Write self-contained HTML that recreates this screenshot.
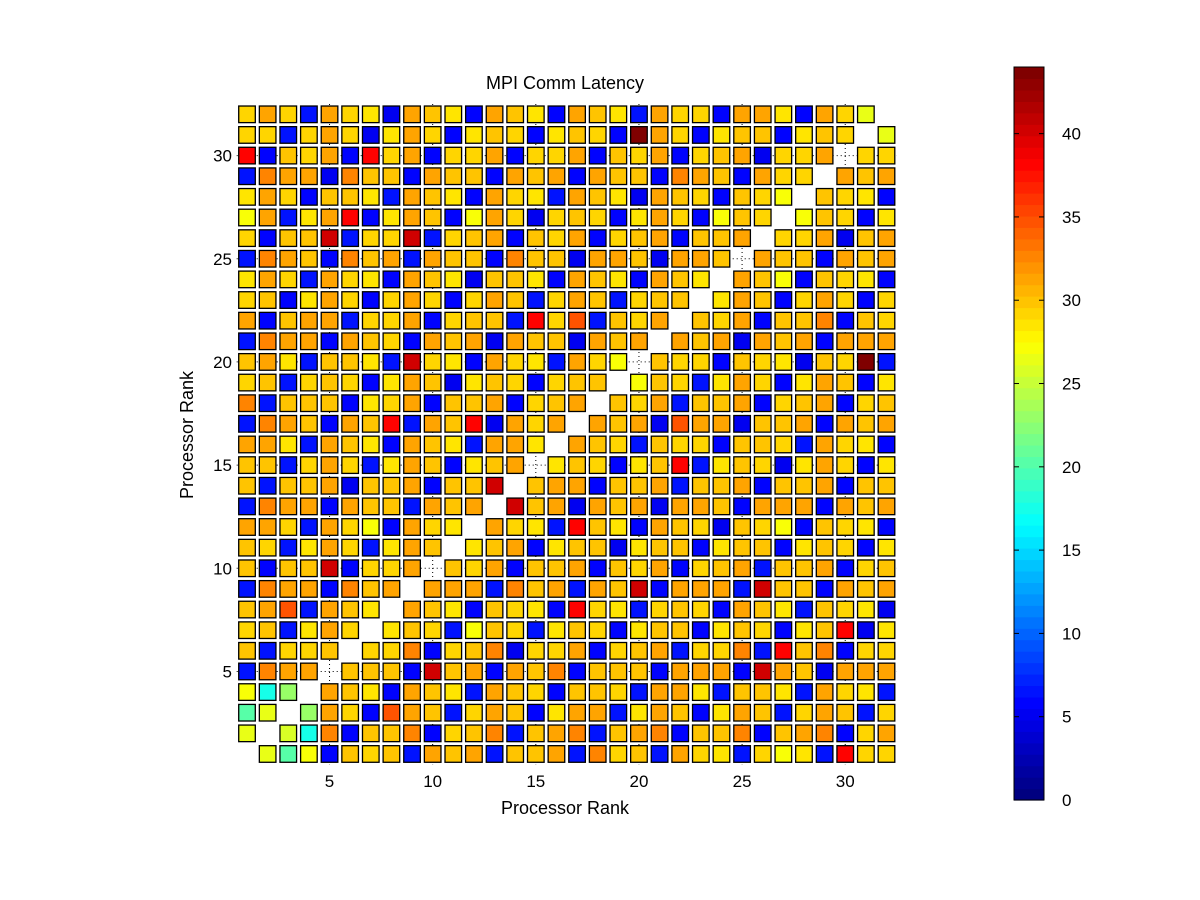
<!DOCTYPE html>
<html><head><meta charset="utf-8"><title>MPI Comm Latency</title>
<style>
html,body{margin:0;padding:0;background:#fff;}
svg{display:block;font-family:"Liberation Sans",Arial,sans-serif;}
</style></head>
<body>
<svg id="chart" width="1200" height="900" viewBox="0 0 1200 900" xmlns="http://www.w3.org/2000/svg">
<rect x="0" y="0" width="1200" height="900" fill="#fff"/>
<text x="565" y="89" text-anchor="middle" font-size="18">MPI Comm Latency</text>
<text x="565" y="814" text-anchor="middle" font-size="18">Processor Rank</text>
<text x="0" y="0" transform="translate(193,435) rotate(-90)" text-anchor="middle" font-size="18">Processor Rank</text>
<g id="grid"></g>
<g id="cells"></g>
<g id="xticks"></g>
<g id="yticks"></g>
<g id="cbar"></g>
</svg>
<script>
const ranks = Array.from({length:32},(_,i)=>i+1);
const axisTicks = [5,10,15,20,25,30];
const colorbarTicks = [0,5,10,15,20,25,30,35,40];
const colorMin = 0;
const colorMax = 44;
// latency[row-1][col-1], row = y rank (1 at bottom), col = x rank
const latency = [
[null,26.5,20,27.5,5.5,30.3,29.2,30.3,6.5,31.2,30.3,31.2,6.5,30.3,30.3,31.2,6.5,32.5,29.2,30.3,6.5,31.2,29.2,28.3,6.5,29.2,27.5,28.3,6.5,38.5,29.2,29.2],
[26.5,null,25.5,17.8,32.5,5.5,30.3,30.3,32.5,5.5,29.2,30.3,32.5,6.5,30.3,31.2,32.5,6.5,30.3,31.2,32.5,5.5,30.3,30.3,32.5,5.5,30.3,31.2,32.5,5.5,29.2,31.2],
[20,26.5,null,23,31.2,29.2,5.5,35,31.2,30.3,6.5,29.2,31.2,30.3,5.5,28.3,31.2,31.2,6.5,28.3,31.2,30.3,5.5,28.3,31.2,30.3,6.5,29.2,31.2,30.3,6.5,29.2],
[27.5,17.8,23,null,31.2,30.3,28.3,5.5,31.2,30.3,28.3,6.5,31.2,30.3,29.2,5.5,30.3,30.3,29.2,6.5,31.2,31.2,28.3,6.5,30.3,30.3,28.3,6.5,31.2,29.2,28.3,6.5],
[6.5,32.5,31.2,31.2,null,30.3,30.3,30.3,5.5,40.5,30.3,31.2,5.5,31.2,30.3,32.5,5.5,30.3,30.3,30.3,5.5,31.2,31.2,31.2,5.5,40.5,31.2,30.3,4.8,31.2,31.2,31.2],
[30.3,6.5,29.2,29.2,30.3,null,29.2,29.2,32.5,5.5,29.2,30.3,32.5,4.8,29.2,29.2,31.2,5.5,29.2,30.3,31.2,6.5,29.2,29.2,32.5,6.5,38.5,30.3,32.5,5.5,29.2,29.2],
[29.2,30.3,6.5,28.3,31.2,29.2,null,28.3,30.3,29.2,6.5,27.5,30.3,29.2,6.5,28.3,30.3,29.2,5.5,28.3,30.3,30.3,5.5,28.3,30.3,29.2,5.5,28.3,30.3,38.5,4.8,28.3],
[30.3,31.2,35,6.5,31.2,30.3,28.3,null,31.2,30.3,28.3,5.5,30.3,29.2,28.3,5.5,38.5,29.2,28.3,6.5,29.2,30.3,29.2,5.5,31.2,30.3,28.3,6.5,30.3,29.2,28.3,4.8],
[6.5,32.5,31.2,31.2,5.5,32.5,30.3,31.2,null,31.2,31.2,31.2,6.5,32.5,30.3,31.2,6.5,31.2,30.3,40.5,5.5,31.2,31.2,31.2,6.5,40.5,30.3,30.3,5.5,31.2,30.3,31.2],
[30.3,5.5,30.3,30.3,40.5,5.5,29.2,29.2,31.2,null,30.3,29.2,31.2,5.5,30.3,30.3,31.2,5.5,30.3,29.2,31.2,5.5,29.2,30.3,31.2,6.5,30.3,30.3,31.2,5.5,29.2,30.3],
[30.3,29.2,6.5,28.3,31.2,29.2,6.5,28.3,31.2,30.3,null,28.3,30.3,31.2,5.5,28.3,30.3,30.3,4.8,28.3,30.3,30.3,5.5,28.3,30.3,30.3,5.5,28.3,30.3,29.2,5.5,28.3],
[31.2,31.2,29.2,6.5,31.2,29.2,27.5,5.5,31.2,29.2,28.3,null,31.2,29.2,28.3,6.5,38.5,30.3,28.3,5.5,31.2,30.3,29.2,4.8,30.3,29.2,27.5,5.5,30.3,29.2,28.3,5.5],
[6.5,32.5,31.2,31.2,5.5,31.2,30.3,30.3,6.5,31.2,30.3,31.2,null,40.5,30.3,31.2,4.8,31.2,30.3,31.2,4.8,31.2,31.2,30.3,5.5,31.2,31.2,31.2,5.5,31.2,30.3,31.2],
[30.3,6.5,30.3,30.3,31.2,4.8,30.3,30.3,31.2,5.5,30.3,30.3,40.5,null,30.3,31.2,31.2,5.5,30.3,30.3,31.2,6.5,30.3,30.3,31.2,5.5,30.3,30.3,31.2,5.5,30.3,30.3],
[30.3,30.3,6.5,29.2,31.2,29.2,6.5,28.3,31.2,30.3,5.5,28.3,30.3,31.2,null,28.3,30.3,29.2,5.5,28.3,30.3,38.5,6.5,28.3,30.3,29.2,4.8,28.3,31.2,29.2,5.5,28.3],
[31.2,31.2,28.3,6.5,31.2,30.3,28.3,5.5,31.2,30.3,28.3,6.5,31.2,31.2,28.3,null,31.2,30.3,29.2,6.5,30.3,29.2,29.2,5.5,30.3,30.3,29.2,6.5,31.2,29.2,28.3,5.5],
[6.5,32.5,31.2,30.3,5.5,31.2,30.3,38.5,6.5,31.2,30.3,38.5,4.8,31.2,29.2,31.2,null,31.2,30.3,31.2,4.8,35,31.2,31.2,4.8,30.3,30.3,31.2,5.5,31.2,30.3,31.2],
[32.5,6.5,30.3,30.3,30.3,5.5,28.3,29.2,31.2,5.5,30.3,30.3,31.2,5.5,29.2,30.3,31.2,null,30.3,29.2,31.2,6.5,30.3,30.3,31.2,5.5,29.2,30.3,31.2,5.5,29.2,30.3],
[29.2,30.3,6.5,29.2,30.3,29.2,5.5,28.3,31.2,30.3,4.8,28.3,30.3,29.2,5.5,29.2,30.3,30.3,null,27.5,30.3,29.2,6.5,28.3,31.2,29.2,5.5,28.3,31.2,30.3,5.5,28.3],
[30.3,31.2,28.3,6.5,30.3,30.3,28.3,6.5,40.5,29.2,28.3,5.5,31.2,29.2,28.3,6.5,31.2,29.2,27.5,null,30.3,29.2,29.2,5.5,30.3,29.2,28.3,4.8,30.3,29.2,44,6.5],
[6.5,32.5,31.2,31.2,5.5,31.2,30.3,29.2,5.5,31.2,30.3,31.2,4.8,31.2,30.3,30.3,4.8,31.2,30.3,31.2,null,31.2,30.3,31.2,4.8,31.2,30.3,31.2,5.5,31.2,31.2,31.2],
[31.2,5.5,30.3,31.2,31.2,6.5,29.2,29.2,31.2,5.5,29.2,30.3,30.3,6.5,38.5,29.2,35,6.5,30.3,29.2,31.2,null,30.3,29.2,31.2,5.5,30.3,30.3,32.5,5.5,30.3,29.2],
[29.2,30.3,5.5,28.3,31.2,29.2,5.5,29.2,31.2,29.2,5.5,29.2,31.2,30.3,6.5,29.2,31.2,30.3,6.5,29.2,30.3,30.3,null,28.3,31.2,30.3,5.5,29.2,31.2,29.2,5.5,29.2],
[28.3,31.2,29.2,6.5,31.2,29.2,28.3,5.5,31.2,30.3,28.3,4.8,30.3,30.3,28.3,5.5,31.2,30.3,28.3,5.5,31.2,30.3,28.3,null,31.2,30.3,27.5,5.5,30.3,29.2,28.3,5.5],
[6.5,32.5,31.2,30.3,5.5,32.5,30.3,31.2,6.5,31.2,30.3,30.3,5.5,32.5,30.3,30.3,4.8,31.2,31.2,30.3,4.8,31.2,31.2,30.3,null,31.2,30.3,30.3,5.5,31.2,30.3,31.2],
[29.2,5.5,30.3,30.3,40.5,6.5,29.2,29.2,40.5,6.5,29.2,30.3,31.2,5.5,30.3,29.2,31.2,5.5,29.2,30.3,31.2,5.5,30.3,30.3,31.2,null,29.2,29.2,31.2,4.8,30.3,31.2],
[27.5,31.2,6.5,28.3,31.2,38.5,5.5,28.3,31.2,30.3,5.5,27.5,31.2,29.2,4.8,29.2,30.3,29.2,5.5,28.3,31.2,29.2,5.5,27.5,30.3,29.2,null,27.5,30.3,29.2,5.5,28.3],
[28.3,31.2,29.2,5.5,30.3,30.3,28.3,6.5,31.2,30.3,28.3,5.5,31.2,29.2,28.3,6.5,31.2,30.3,28.3,4.8,31.2,30.3,29.2,5.5,30.3,29.2,27.5,null,30.3,29.2,28.3,5.5],
[6.5,32.5,31.2,31.2,4.8,32.5,30.3,30.3,5.5,31.2,30.3,30.3,5.5,31.2,30.3,31.2,5.5,31.2,30.3,30.3,5.5,32.5,31.2,30.3,5.5,31.2,29.2,29.2,null,31.2,30.3,31.2],
[38.5,5.5,30.3,29.2,31.2,5.5,38.5,29.2,31.2,5.5,29.2,29.2,31.2,5.5,29.2,29.2,31.2,5.5,30.3,29.2,31.2,5.5,29.2,30.3,31.2,4.8,29.2,29.2,31.2,null,29.2,29.2],
[29.2,29.2,6.5,29.2,31.2,29.2,4.8,28.3,31.2,29.2,5.5,28.3,30.3,29.2,5.5,28.3,30.3,29.2,5.5,44,31.2,29.2,5.5,28.3,30.3,30.3,5.5,28.3,30.3,29.2,null,26.5],
[29.2,31.2,29.2,6.5,31.2,29.2,28.3,4.8,31.2,30.3,28.3,5.5,31.2,30.3,28.3,5.5,31.2,30.3,28.3,6.5,31.2,29.2,29.2,5.5,31.2,31.2,28.3,5.5,31.2,29.2,26.5,null]
];

const NS = "http://www.w3.org/2000/svg";
const X0 = 236.7, X1 = 896.8, Y0 = 764.3, Y1 = 104;
function xScale(v){ return X0 + (v-0.5)/32*(X1-X0); }
function yScale(v){ return Y0 - (v-0.5)/32*(Y0-Y1); }
function jet(t){
  t = Math.max(0, Math.min(1, t));
  t = Math.round(t*63)/63;
  const c = f => Math.round(255*Math.max(0, Math.min(1, f)));
  return "rgb(" + c(1.5-Math.abs(4*t-3)) + "," + c(1.5-Math.abs(4*t-2)) + "," + c(1.5-Math.abs(4*t-1)) + ")";
}
function mk(tag, attrs, parent){
  const el = document.createElementNS(NS, tag);
  for (const k in attrs) el.setAttribute(k, attrs[k]);
  parent.appendChild(el);
  return el;
}
const grid = document.getElementById('grid');
axisTicks.forEach(t => {
  let l = mk('line', {x1:xScale(t), x2:xScale(t), y1:Y1, y2:Y0, stroke:'#000', 'stroke-width':1, 'stroke-dasharray':'1,3'}, grid);
  
  
  l = mk('line', {x1:X0, x2:X1, y1:yScale(t), y2:yScale(t), stroke:'#000', 'stroke-width':1, 'stroke-dasharray':'1,3'}, grid);
  
  
});
const cells = document.getElementById('cells');
const pitch = (X1-X0)/32, size = 16.6;
latency.forEach((row, ri) => {
  row.forEach((v, ci) => {
    if (v === null) return;
    const cx = xScale(ranks[ci]), cy = yScale(ranks[ri]);
    const r = mk('rect', {x:(cx-size/2).toFixed(2), y:(cy-size/2).toFixed(2), width:size, height:size,
      fill:jet((v-colorMin)/(colorMax-colorMin)), stroke:'#000', 'stroke-width':1.3}, cells);
    
    
  });
});
const xt = document.getElementById('xticks'), yt = document.getElementById('yticks');
axisTicks.forEach(t => {
  const a = mk('text', {x:xScale(t), y:787, 'text-anchor':'middle', 'font-size':17}, xt);
  a.textContent = t;
  
  
  const b = mk('text', {x:232, y:yScale(t)+6, 'text-anchor':'end', 'font-size':17}, yt);
  b.textContent = t;
  
  
});
const cb = document.getElementById('cbar');
const CBX = 1014, CBW = 30, CBT = 67, CBB = 800;
function cbScale(v){ return CBB - (v-colorMin)/(colorMax-colorMin)*(CBB-CBT); }
for (let i = 0; i < 64; i++){
  const y0 = CBB - (i+1)/64*(CBB-CBT), h = (CBB-CBT)/64;
  const s = mk('rect', {x:CBX, y:y0.toFixed(2), width:CBW, height:(h+0.6).toFixed(2), fill:jet(i/63)}, cb);
  
  
}
const frame = mk('rect', {x:CBX, y:CBT, width:CBW, height:CBB-CBT, fill:'none', stroke:'#000', 'stroke-width':1}, cb);


colorbarTicks.forEach(t => {
  const y = cbScale(t);
  let l = mk('line', {x1:CBX, x2:CBX+5, y1:y, y2:y, stroke:'#000', 'stroke-width':1}, cb);
  
  
  l = mk('line', {x1:CBX+CBW-5, x2:CBX+CBW, y1:y, y2:y, stroke:'#000', 'stroke-width':1}, cb);
  
  
  const tx = mk('text', {x:1062, y:y+6, 'text-anchor':'start', 'font-size':17}, cb);
  tx.textContent = t;
  
  
});
</script>
</body></html>
